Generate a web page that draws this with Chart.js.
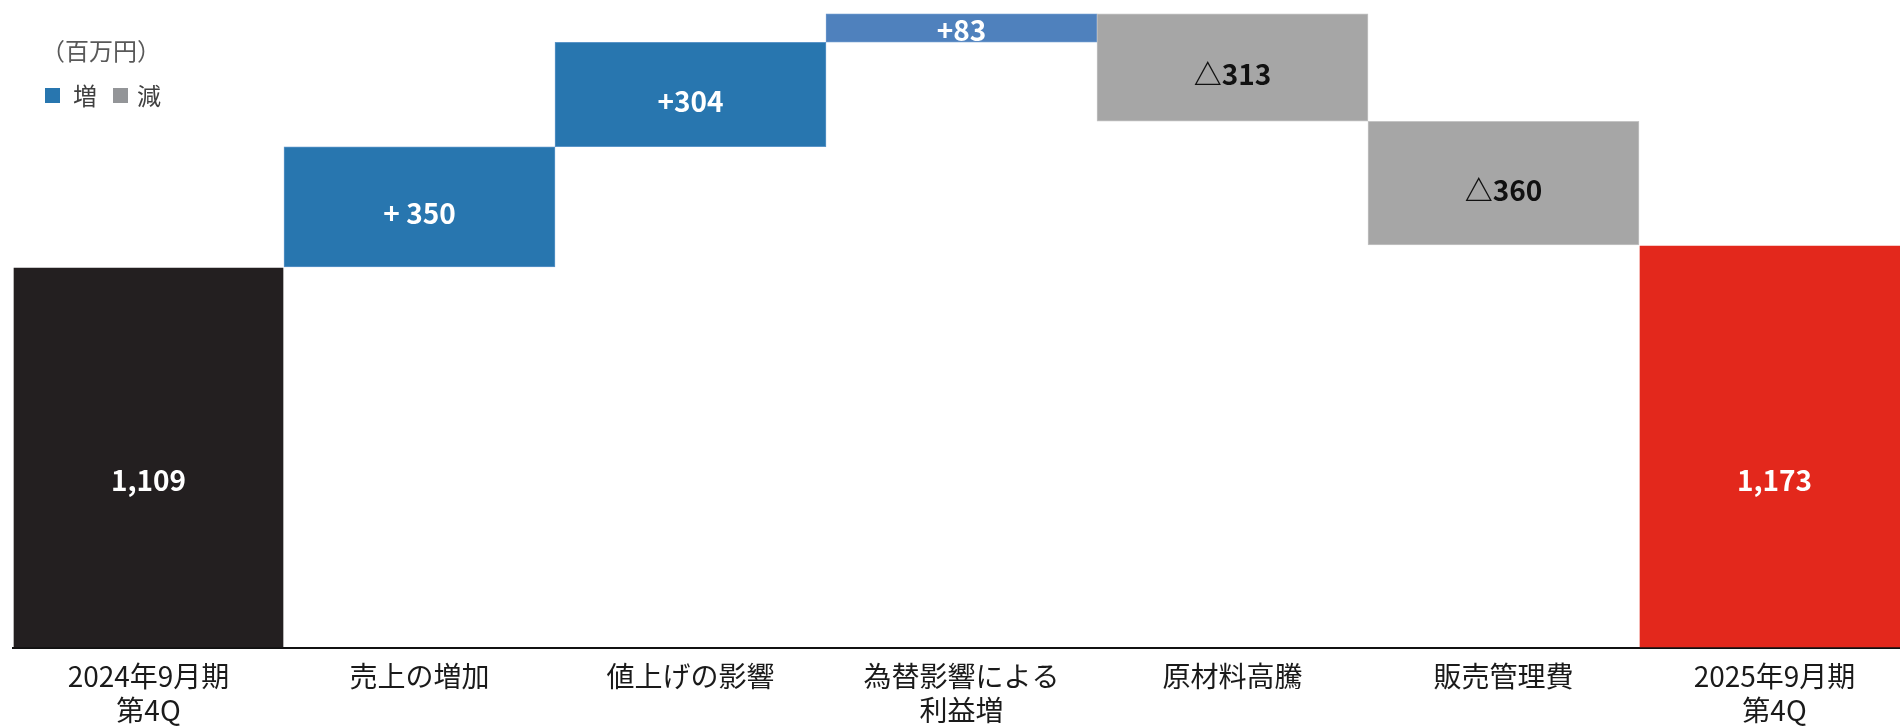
<!DOCTYPE html>
<html lang="ja">
<head>
<meta charset="utf-8">
<title>営業利益 増減要因</title>
<script src="https://cdn.jsdelivr.net/npm/chart.js@4.4.1/dist/chart.umd.min.js"></script>
<style>
  html, body { margin: 0; padding: 0; background: #fff; overflow: hidden; }
  #wrap { width: 1900px; height: 728px; overflow: hidden; }
  canvas { display: block; }
</style>
</head>
<body>
<div id="wrap"><canvas id="bridge" width="1910" height="728"></canvas></div>
<script>
// --- Data ---
const categories = [
    ['2024年9月期', '第4Q'],
    '売上の増加',
    '値上げの影響',
    ['為替影響による', '利益増'],
    '原材料高騰',
    '販売管理費',
    ['2025年9月期', '第4Q']
];
const startValue = 1109;                       // 2024年9月期 第4Q
const changes = [350, 304, 83, -313, -360];     // 増減要因
const endValue = 1173;                         // 2025年9月期 第4Q
const valueLabels = ['1,109', '+ 350', '+304', '+83', '△313', '△360', '1,173'];
const unitLabel = '（百万円）';
const legendLabels = ['増', '減'];

// --- Colours ---
const colTotalStart = '#231f20';
const colTotalEnd = '#e3281c';
const colUp = '#2876af';
const colUpLight = '#4f81bd';
const colDown = '#a6a6a6';
const colLegendDown = '#939598';

// build floating bars for the waterfall
const bars = [[0, startValue]];
let running = startValue;
changes.forEach(d => {
    const next = running + d;
    bars.push([Math.min(running, next), Math.max(running, next)]);
    running = next;
});
bars.push([0, endValue]);

const barColors = [colTotalStart, colUp, colUp, colUpLight, colDown, colDown, colTotalEnd];
const borderColors = ['rgba(0,0,0,0)', '#5b95c8', '#5b95c8', '#6a96cc', '#c4c4c4', '#c4c4c4', 'rgba(0,0,0,0)'];
const labelColors = ['#ffffff', '#ffffff', '#ffffff', '#ffffff', '#111111', '#111111', '#ffffff'];

const FONT = '"Noto Sans CJK JP", "Noto Sans", sans-serif';

// labels inside the bars + unit / legend in the top-left corner
const annotate = {
    id: 'annotate',
    afterDatasetsDraw(chart) {
        const ctx = chart.ctx;
        const meta = chart.getDatasetMeta(0);
        ctx.save();
        ctx.textAlign = 'center';
        ctx.textBaseline = 'middle';
        ctx.font = 'bold 28px ' + FONT;
        meta.data.forEach((bar, i) => {
            const top = Math.min(bar.y, bar.base);
            const bottom = Math.max(bar.y, bar.base);
            let y;
            if (i === 0 || i === meta.data.length - 1) {
                y = bottom - 168;
            } else {
                y = (top + bottom) / 2 + Math.min(7, (bottom - top) * 0.1);
            }
            ctx.fillStyle = labelColors[i];
            ctx.fillText(valueLabels[i], bar.x, y);
        });

        // unit
        ctx.textAlign = 'left';
        ctx.fillStyle = '#595959';
        ctx.font = '24px ' + FONT;
        ctx.fillText(unitLabel, 41, 51);

        // legend
        ctx.fillStyle = colUp;
        ctx.fillRect(45, 88, 15, 15);
        ctx.fillStyle = colLegendDown;
        ctx.fillRect(113, 88, 15, 15);
        ctx.fillStyle = '#404040';
        ctx.fillText(legendLabels[0], 73, 96);
        ctx.fillText(legendLabels[1], 137, 96);
        ctx.restore();
    }
};

const ctx = document.getElementById('bridge').getContext('2d');
new Chart(ctx, {
    type: 'bar',
    data: {
        labels: categories,
        datasets: [{
            data: bars,
            backgroundColor: barColors,
            borderColor: borderColors,
            borderWidth: 1,
            borderSkipped: false,
            barPercentage: 1.0,
            categoryPercentage: 1.0
        }]
    },
    options: {
        responsive: false,
        animation: false,
        devicePixelRatio: 1,
        layout: { padding: { left: 13, right: 0, top: 0, bottom: 0 } },
        plugins: {
            legend: { display: false },
            tooltip: { enabled: false }
        },
        scales: {
            x: {
                grid: { display: false },
                border: { display: true, color: '#111111', width: 2 },
                ticks: {
                    color: '#1a1a1a',
                    font: { family: FONT, size: 28, lineHeight: 1.2 },
                    padding: 4,
                    maxRotation: 0,
                    autoSkip: false
                },
                afterFit(scale) { scale.height = 80; }
            },
            y: {
                display: false,
                min: 0,
                max: 1886
            }
        }
    },
    plugins: [annotate]
});
</script>
</body>
</html>
